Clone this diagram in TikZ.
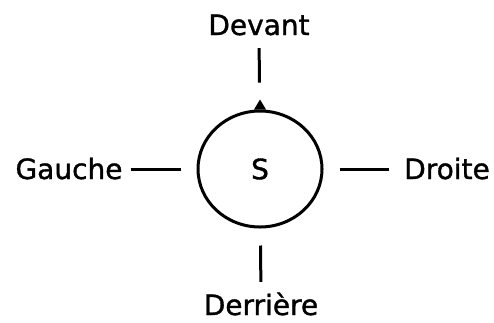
\documentclass[tikz,border=0pt]{standalone}
\usepackage{fontspec}
\setmainfont[FakeBold=1.2]{DejaVu Sans}
\usepackage{tikz}
\usetikzlibrary{shapes.geometric}

\begin{document}
\begin{tikzpicture}[x=1pt,y=-1pt,font=\fontsize{28}{30}\selectfont,
    lbl/.style={inner sep=0pt,text height=20pt,text depth=0pt},
    tie/.style={line width=3pt}]
  \useasboundingbox (0,0) rectangle (494,322);
  \node[ellipse,draw,line width=3pt,minimum width=124pt,minimum height=116pt] (s) at (260,169) {S};
  \fill ([xshift=-6pt]s.north) -- ([xshift=6pt]s.north) -- ([yshift=10pt]s.north) -- cycle;
  \node[lbl] (devant) at (259,25) {Devant};
  \node[lbl] (derriere) at (261,305) {Derrière};
  \node[lbl] (gauche) at (69,169) {Gauche};
  \node[lbl] (droite) at (447,169) {Droite};
  \draw[tie,shorten <=13pt,shorten >=27pt] (devant) -- (s);
  \draw[tie,shorten <=17pt,shorten >=13pt] (s) -- (derriere);
  \draw[tie,shorten <=8pt,shorten >=16pt] (gauche) -- (s);
  \draw[tie,shorten <=16pt,shorten >=15pt] (s) -- (droite);
\end{tikzpicture}
\end{document}
